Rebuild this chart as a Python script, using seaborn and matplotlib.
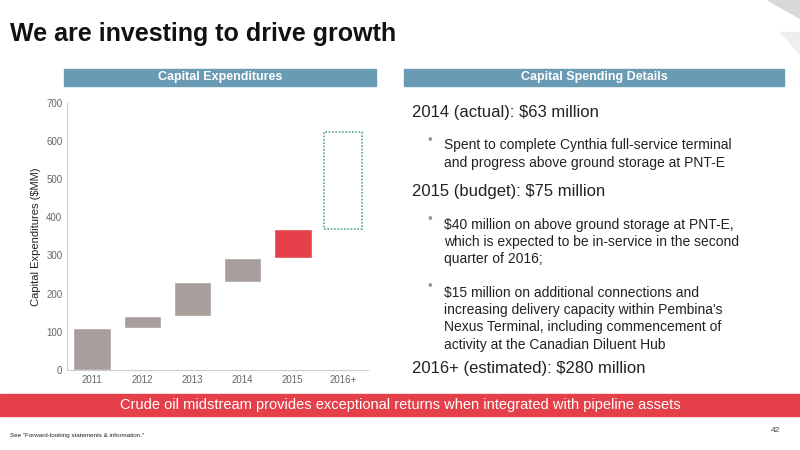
import matplotlib
matplotlib.use("Agg")
import matplotlib.pyplot as plt
import seaborn as sns
import pandas as pd
from matplotlib.patches import Rectangle, Polygon

sns.set_style("white")
plt.rcParams['font.family'] = ['Liberation Sans', 'DejaVu Sans']

years = ["2011", "2012", "2013", "2014", "2015", "2016+"]
starts = [0, 111, 142, 230, 293, 368]
amounts = [111, 31, 88, 63, 75, 255]
colors = ["#a89f9c", "#a89f9c", "#a89f9c", "#a89f9c", "#e5404a", "none"]

df = pd.DataFrame({"year": years, "start": starts, "amount": amounts})

fig = plt.figure(figsize=(8, 4.5), dpi=100)
fig.patch.set_facecolor("white")

# header
fig.text(0.012, 0.91, "We are investing to drive growth", fontsize=18, fontweight="bold", color="#111111")
for x0, w, t in [(0.08, 0.39, "Capital Expenditures"), (0.505, 0.475, "Capital Spending Details")]:
    fig.patches.append(Rectangle((x0, 0.81), w, 0.036, transform=fig.transFigure, color="#6a9bb4"))
    fig.text(x0 + w / 2, 0.828, t, color="white", fontsize=9, fontweight="bold", ha="center", va="center")
fig.patches.append(Polygon([(0.96, 1), (1, 1), (1, 0.96)], closed=True, transform=fig.transFigure, color="#d8d8d8"))
fig.patches.append(Polygon([(0.975, 0.93), (1, 0.93), (1, 0.88)], closed=True, transform=fig.transFigure, color="#eeeeee"))

ax = fig.add_axes([0.084, 0.178, 0.376, 0.594])
sns.barplot(x=df["year"], y=df["amount"], bottom=df["start"].to_numpy(), ax=ax, width=0.75,
            color="#a89f9c", saturation=1)
for p, c in zip(ax.patches, colors):
    if c == "none":
        p.set_facecolor("none")
        p.set_edgecolor("#5aa39a")
        p.set_linestyle((0, (1, 1)))
        p.set_linewidth(1.2)
    else:
        p.set_facecolor(c)
ax.set_ylim(0, 700)
ax.set_yticks(range(0, 701, 100))
ax.set_xlabel("")
ax.set_ylabel("Capital Expenditures ($MM)", fontsize=8, color="#222222")
ax.tick_params(labelsize=7, colors="#666666", length=0)
for s in ["top", "right"]:
    ax.spines[s].set_visible(False)
for s in ["left", "bottom"]:
    ax.spines[s].set_color("#cccccc")

fig.text(0.515, 0.74, "2014 (actual): $63 million", fontsize=12, color="#222222")
fig.text(0.535, 0.68, "•", fontsize=10, color="#999999")
fig.text(0.555, 0.63, "Spent to complete Cynthia full-service terminal\nand progress above ground storage at PNT-E",
         fontsize=10, color="#222222", linespacing=1.3)
fig.text(0.515, 0.565, "2015 (budget): $75 million", fontsize=12, color="#222222")
fig.text(0.535, 0.505, "•", fontsize=10, color="#999999")
fig.text(0.555, 0.415, "$40 million on above ground storage at PNT-E,\nwhich is expected to be in-service in the second\nquarter of 2016;",
         fontsize=10, color="#222222", linespacing=1.3)
fig.text(0.535, 0.355, "•", fontsize=10, color="#999999")
fig.text(0.555, 0.225, "$15 million on additional connections and\nincreasing delivery capacity within Pembina's\nNexus Terminal, including commencement of\nactivity at the Canadian Diluent Hub",
         fontsize=10, color="#222222", linespacing=1.3)
fig.text(0.515, 0.17, "2016+ (estimated): $280 million", fontsize=12, color="#222222")

fig.patches.append(Rectangle((0, 0.075), 1, 0.05, transform=fig.transFigure, color="#e5404a"))
fig.text(0.5, 0.1, "Crude oil midstream provides exceptional returns when integrated with pipeline assets",
         fontsize=10.5, color="white", ha="center", va="center")
fig.text(0.012, 0.03, "See \"Forward-looking statements & information.\"", fontsize=4.5, color="#222222")
fig.text(0.975, 0.04, "42", fontsize=6, color="#444444", ha="right")

fig.savefig("out.png", dpi=100)
